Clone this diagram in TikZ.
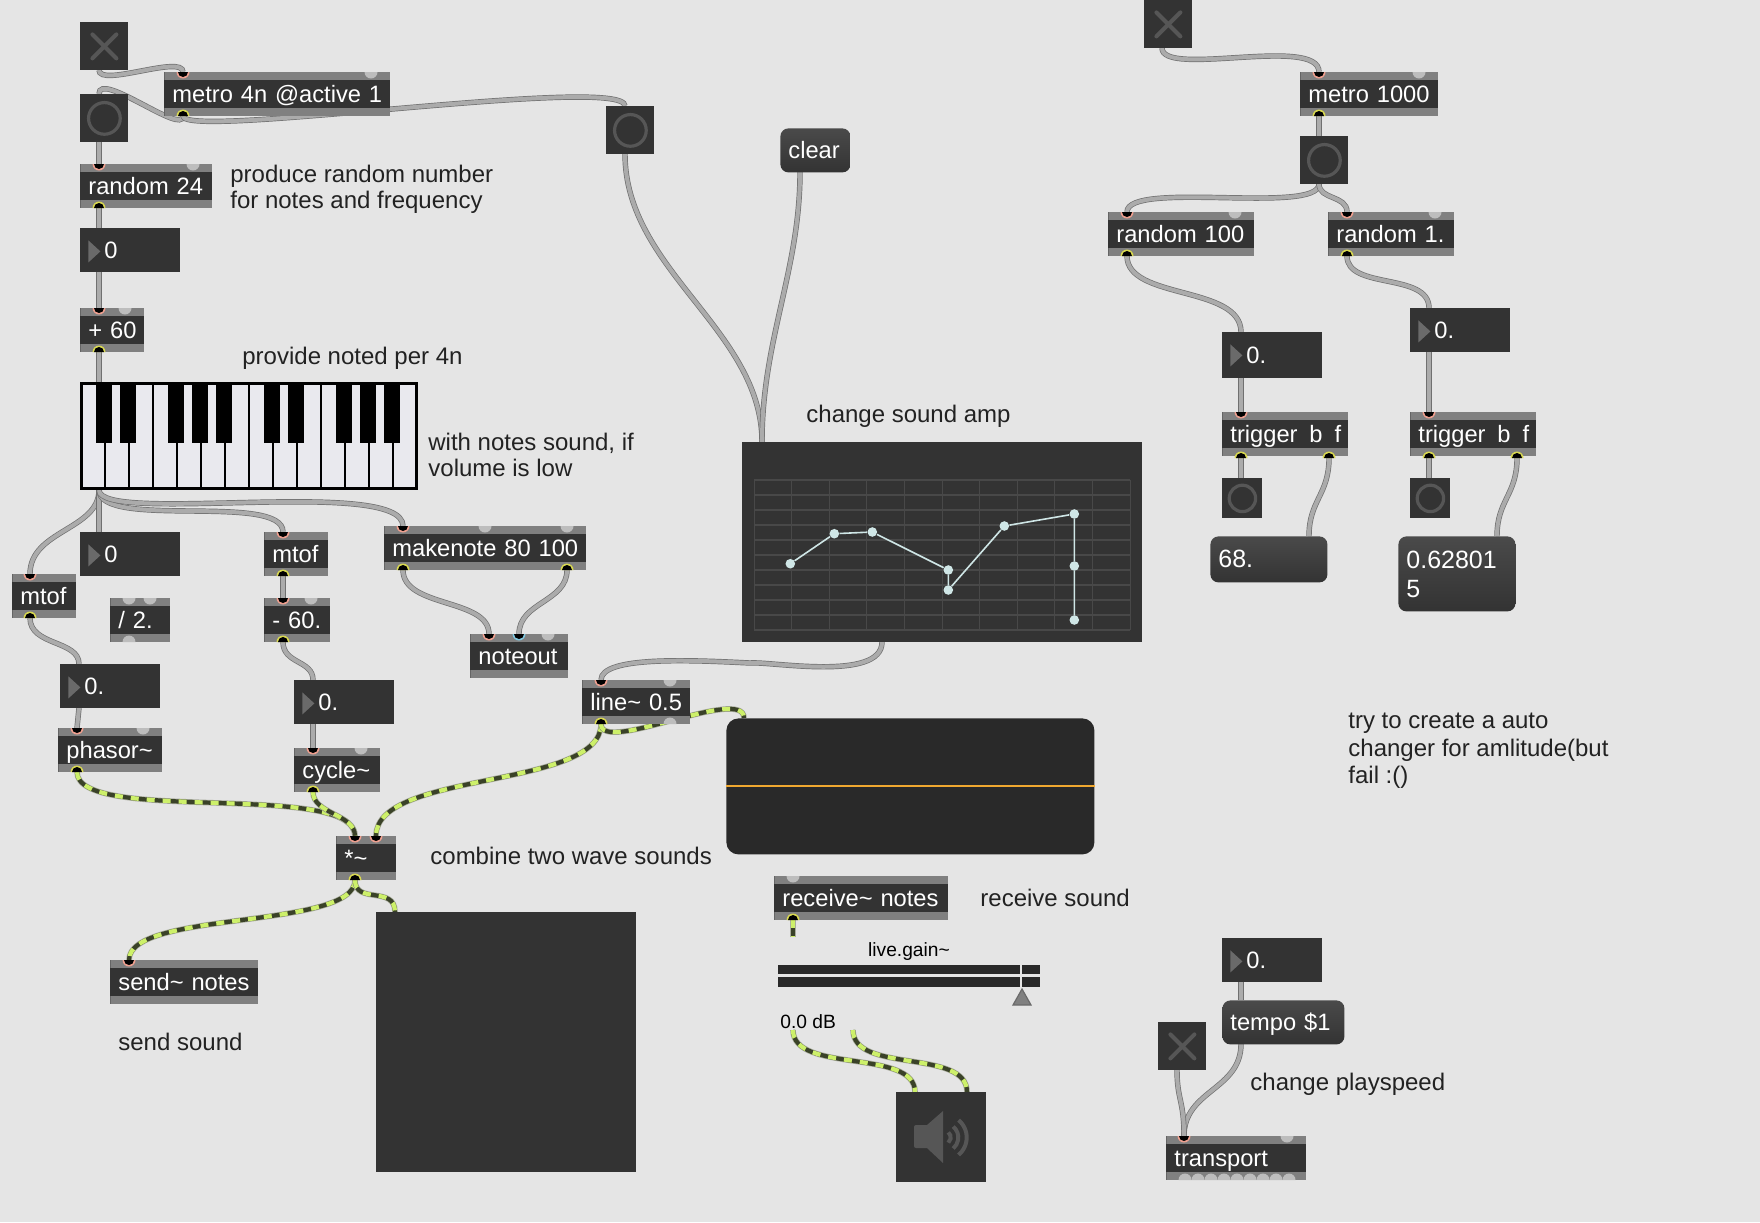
\documentclass[tikz,border=0pt]{standalone}
\usepackage{fontspec}
\setmainfont{Liberation Sans}
\usetikzlibrary{backgrounds}

\definecolor{canvas}{HTML}{E5E5E5}
\definecolor{objdark}{HTML}{333333}
\definecolor{objband}{HTML}{808080}
\definecolor{hintcol}{HTML}{BDBDBD}
\definecolor{inring}{HTML}{F0A090}
\definecolor{bluering}{HTML}{80C8E0}
\definecolor{outring}{HTML}{D8D850}
\definecolor{glyphcol}{HTML}{565656}
\definecolor{tricol}{HTML}{6A6A6A}
\definecolor{msgtop}{HTML}{4A4A4A}
\definecolor{msgbot}{HTML}{333333}
\definecolor{notecol}{HTML}{222222}
\definecolor{wireedge}{HTML}{707070}
\definecolor{wirefill}{HTML}{ABABAB}
\definecolor{sigedge}{HTML}{A8AC9C}
\definecolor{sigdark}{HTML}{3A4228}
\definecolor{siglime}{HTML}{CDF06A}
\definecolor{gridcol}{HTML}{484848}
\definecolor{ptcol}{HTML}{CFE6E6}
\definecolor{scopecol}{HTML}{292929}
\definecolor{ampcol}{HTML}{F0A830}
\definecolor{keywhite}{HTML}{E9E9EE}

\newcommand{\tilda}{\textasciitilde}
\newcommand{\inport}[4][inring]{%
  \coordinate (#2) at (#3,#4);
  \fill[#1] (#3,#4) ++(6.5,0) arc[start angle=0,end angle=180,radius=6.5] -- cycle;
  \fill[black] (#3,#4) ++(5,0) arc[start angle=0,end angle=180,radius=5] -- cycle;}
\newcommand{\outport}[3]{%
  \coordinate (#1) at (#2,#3);
  \fill[outring] (#2,#3) ++(6.5,0) arc[start angle=360,end angle=180,radius=6.5] -- cycle;
  \fill[black] (#2,#3) ++(5,0) arc[start angle=360,end angle=180,radius=5] -- cycle;}
\newcommand{\tophint}[2]{%
  \fill[hintcol] (#1,#2) ++(6.5,0) arc[start angle=0,end angle=180,radius=6.5] -- cycle;}
\newcommand{\bothint}[2]{%
  \fill[hintcol] (#1,#2) ++(6.5,0) arc[start angle=360,end angle=180,radius=6.5] -- cycle;}

\tikzset{
  txt/.style={font=\fontsize{11.85}{13}\selectfont},
  note/.style={font=\fontsize{12}{13}\selectfont,text=notecol,anchor=west,inner sep=0pt,align=left},
  darkbox/.style={rectangle,fill=objdark,anchor=north west,inner sep=0pt},
  objbox/.style={darkbox,txt,text=white,minimum height=22pt,
    text width={#1*.5pt},align=left,text height=9.4pt,text depth=1.8pt,
    execute at begin node={\hspace*{4pt}},
    path picture={
      \fill[objband] (path picture bounding box.north west) rectangle
        ([yshift=-4pt]path picture bounding box.north east);
      \fill[objband] (path picture bounding box.south west) rectangle
        ([yshift=4pt]path picture bounding box.south east);}},
  numbox/.style={darkbox,txt,text=white,minimum height=#1,
    text width=50pt,align=left,text height=9.4pt,text depth=1.8pt,
    execute at begin node={\hspace*{12pt}},
    path picture={
      \fill[tricol] ([xshift=4pt,yshift=-6pt]path picture bounding box.north west)
        -- ([xshift=10pt,yshift=-11.5pt]path picture bounding box.north west)
        -- ([xshift=4pt,yshift=-17pt]path picture bounding box.north west) -- cycle;}},
  msgbox/.style={rectangle,rounded corners=4pt,top color=msgtop,bottom color=msgbot,
    anchor=north west,inner sep=0pt,txt,text=white,minimum height=22pt,
    text width={#1*.5pt},align=left,text height=9.4pt,text depth=1.8pt,
    execute at begin node={\hspace*{4pt}}},
  bangbox/.style 2 args={darkbox,minimum width=#1,minimum height=#2,
    path picture={\draw[glyphcol,line width=1.6pt]
      (path picture bounding box.center) circle[radius=.33*#1]; }},
  togbox/.style 2 args={darkbox,minimum width=#1,minimum height=#2,
    path picture={\draw[glyphcol,line width=2pt,line cap=round]
      ([xshift=-6pt,yshift=-6pt]path picture bounding box.center) --
      ([xshift=6pt,yshift=6pt]path picture bounding box.center)
      ([xshift=-6pt,yshift=6pt]path picture bounding box.center) --
      ([xshift=6pt,yshift=-6pt]path picture bounding box.center);}},
  wire/.style={draw=wireedge,line width=.35pt,double=wirefill,double distance=2pt},
  sigwire/.style={draw=sigedge,line width=2.8pt,
    postaction={draw=sigdark,line width=2.1pt},
    postaction={draw=siglime,line width=2.1pt,dash pattern=on 4pt off 4pt}},
  ptnode/.style={circle,fill=ptcol,minimum size=4.8pt,inner sep=0pt},
  ptline/.style={ptcol,line width=.8pt},
}

\begin{document}
\begin{tikzpicture}[x=.5pt,y=-.5pt]
  \useasboundingbox (0,0) rectangle (1760,1222);

  % left column
  \node[togbox={24pt}{24pt}]  (toga)   at (80,22) {};
  \node[objbox=226]           (metroa) at (164,72) {metro 4n @active 1};
  \node[bangbox={24pt}{24pt}] (banga)  at (80,94) {};
  \node[bangbox={24pt}{24pt}] (bangb)  at (606,106) {};
  \node[objbox=132]           (rnda)   at (80,164) {random 24};
  \node[numbox=22pt]          (numa)   at (80,228) {0};
  \node[objbox=64]            (plus)   at (80,308) {+ 60};
  \node[draw=black,line width=1.5pt,fill=keywhite,anchor=north west,inner sep=0pt,outer sep=0pt,
        minimum width=167.5pt,minimum height=52.5pt] (kbd) at (81.5,383.5) {};
  \foreach \x in {105,129,153,177,201,225,249,273,297,321,345,369,393}
    \draw[black,line width=1pt] (\x,383) -- (\x,489);
  \foreach \x in {96,120,168,192,216,264,288,336,360,384}
    \fill[black] (\x,383) rectangle (\x+16,443);

  \node[numbox=22pt]  (numb)    at (80,532) {0};
  \node[objbox=64]    (mtofa)   at (12,574) {mtof};
  \node[objbox=60]    (divide)  at (110,598) {/ 2.};
  \node[objbox=64]    (mtofb)   at (264,532) {mtof};
  \node[objbox=66]    (minus)   at (264,598) {- 60.};
  \node[objbox=202]   (mknote)  at (384,526) {makenote 80 100};
  \node[objbox=98]    (ntout)   at (470,634) {noteout};
  \node[numbox=22pt]  (numc)    at (60,664) {0.};
  \node[objbox=104]   (phasor)  at (58,728) {phasor\tilda};
  \node[numbox=22pt]  (numd)    at (294,680) {0.};
  \node[objbox=86]    (cycle)   at (294,748) {cycle\tilda};
  \node[objbox=108]   (linea)   at (582,680) {line\tilda{} 0.5};
  \node[objbox=60]    (times)   at (336,836) {*\tilda};
  \node[objbox=148]   (send)    at (110,960) {send\tilda{} notes};
  \node[darkbox,minimum width=130pt,minimum height=130pt] (spect) at (376,912) {};

  % middle
  \node[msgbox=70] (clear) at (780,128) {clear};
  \node[darkbox,minimum width=200pt,minimum height=100pt] (table) at (742,442) {};
  \foreach \i in {0,...,10}
    \draw[gridcol,line width=.5pt] ({754+37.6*\i},480) -- ({754+37.6*\i},630);
  \foreach \i in {0,...,10}
    \draw[gridcol,line width=.8pt] (754,{480+15*\i}) -- (1130,{480+15*\i});
  \node[ptnode] (pta) at (790.3,563.7) {};
  \node[ptnode] (ptb) at (834.3,533.7) {};
  \node[ptnode] (ptc) at (872.3,532) {};
  \node[ptnode] (ptd) at (948.3,570) {};
  \node[ptnode] (pte) at (948.3,590) {};
  \node[ptnode] (ptf) at (1004.3,526) {};
  \node[ptnode] (ptg) at (1074.3,514) {};
  \node[ptnode] (pth) at (1074.3,566) {};
  \node[ptnode] (pti) at (1074.3,620) {};
  \draw[ptline] (pta) -- (ptb) -- (ptc) -- (ptd) -- (pte) -- (ptf) -- (ptg) -- (pth) -- (pti);
  \node[rectangle,rounded corners=6pt,fill=scopecol,anchor=north west,inner sep=0pt,
        minimum width=184pt,minimum height=68pt] (scopebox) at (726,718) {};
  \draw[ampcol,line width=1pt] (scopebox.west) -- (scopebox.east);

  \node[objbox=174] (recv) at (774,876) {receive\tilda{} notes};
  \node[fill=scopecol,anchor=north west,inner sep=0pt,minimum width=131pt,minimum height=4.5pt] (gaina) at (778,965) {};
  \node[fill=scopecol,anchor=north west,inner sep=0pt,minimum width=131pt,minimum height=5pt] (gainb) at (778,977) {};
  \fill[canvas] (1020,965) rectangle (1022,987);
  \fill[objband,draw=tricol,line width=.6pt] (1022,989) -- (1031,1005) -- (1013,1005) -- cycle;
  \node[font=\fontsize{9.6}{11}\selectfont,text=black,inner sep=0pt] (gaintitle) at (909,952) {live.gain\tilda};
  \node[font=\fontsize{9.6}{11}\selectfont,text=black,inner sep=0pt,anchor=west] (gaindb) at (780,1022) {0.0 dB};
  \coordinate (recvend) at (793,937);
  \coordinate (dbouta) at (793,1030);
  \coordinate (dboutb) at (853,1030);
  \node[darkbox,minimum width=45pt,minimum height=45pt] (dac) at (896,1092) {};
  \fill[glyphcol,rounded corners=1pt] (914,1125) rectangle (930,1148);
  \fill[glyphcol] (927,1125) -- (943,1111) -- (943,1163) -- (927,1148) -- cycle;
  \foreach \r in {6.7,14.3,22.7}
    \draw[glyphcol,line width=2pt] (944,1137.5) ++(-50:\r) arc[start angle=-50,end angle=50,radius=\r];

  % right column
  \node[togbox={24pt}{24pt}]  (togb)    at (1144,0) {};
  \node[objbox=138]           (metrob)  at (1300,72) {metro 1000};
  \node[bangbox={24pt}{24pt}] (bangc)   at (1300,136) {};
  \node[objbox=146]           (rndb)    at (1108,212) {random 100};
  \node[objbox=126]           (rndc)    at (1328,212) {random 1.};
  \node[numbox=23pt]          (nume)    at (1222,332) {0.};
  \node[numbox=22pt]          (numf)    at (1410,308) {0.};
  \node[objbox=126]           (triga)   at (1222,412) {trigger\hspace{2pt} b\hspace{2pt} f};
  \node[objbox=126]           (trigb)   at (1410,412) {trigger\hspace{2pt} b\hspace{2pt} f};
  \node[bangbox={20pt}{20pt}] (bangd)   at (1222,478) {};
  \node[bangbox={20pt}{20pt}] (bange)   at (1410,478) {};
  \node[msgbox=117,minimum height=23pt] (msga) at (1210,536) {\fontsize{12.5}{15}\selectfont 68.};
  \node[msgbox=117,text height=16pt,text depth=21.5pt] (msgb) at (1398,536)
    {\fontsize{12.5}{15}\selectfont 0.62801\\[1.5pt]\hspace*{4pt}5};
  \node[numbox=22pt]          (numg)    at (1222,938) {0.};
  \node[msgbox=122]           (tempo)   at (1222,1000) {tempo \$1};
  \node[togbox={24pt}{24pt}]  (togc)    at (1158,1022) {};
  \node[objbox=140]           (trans)   at (1166,1136) {transport};

  % comments
  \node[note] (cmta) at (230,189) {produce random number\\for notes and frequency};
  \node[note] (cmtb) at (242,358) {provide noted per 4n};
  \node[note] (cmtc) at (428,455) {with notes sound, if\\volume is low};
  \node[note] (cmtd) at (806,416) {change sound amp};
  \node[note] (cmte) at (430,856) {combine two wave sounds};
  \node[note] (cmtf) at (118,1042) {send sound};
  \node[note] (cmtg) at (980,898) {receive sound};
  \node[note] (cmth) at (1250,1084) {change playspeed};
  \node[note,font=\fontsize{12}{13.7}\selectfont] (cmti) at (1348,751) {try to create a auto\\changer for amlitude(but\\fail :()};

  % ports
  \inport{metroain}{183}{72}  \tophint{371}{72}   \outport{metroaout}{183}{116}
  \inport{rndain}{99}{164}    \tophint{193}{164}  \outport{rndaout}{99}{208}
  \inport{plusin}{99}{308}    \tophint{125}{308}  \outport{plusout}{99}{352}
  \inport{mtofain}{30}{574}   \outport{mtofaout}{30}{618}
  \tophint{129}{598} \tophint{150}{598} \bothint{129}{642}
  \inport{mtofbin}{283}{532}  \outport{mtofbout}{283}{576}
  \inport{minusin}{283}{598}  \tophint{311}{598}  \outport{minusout}{283}{642}
  \inport{mkin}{403}{526}     \tophint{485}{526}  \tophint{567}{526}
  \outport{mkouta}{403}{570}  \outport{mkoutb}{567}{570}
  \inport{ntina}{489}{634}    \inport[bluering]{ntinb}{519}{634}  \tophint{548}{634}
  \inport{phasorin}{77}{728}  \tophint{143}{728}  \outport{phasorout}{77}{772}
  \inport{cyclein}{313}{748}  \tophint{361}{748}  \outport{cycleout}{313}{792}
  \inport{linein}{601}{680}   \tophint{670}{680}  \bothint{670}{724}  \outport{lineout}{601}{724}
  \inport{timesina}{355}{836} \inport{timesinb}{376}{836}  \outport{timesout}{355}{880}
  \inport{sendin}{129}{960}
  \tophint{793}{876}          \outport{recvout}{793}{920}
  \inport{metrobin}{1319}{72} \tophint{1419}{72}  \outport{metrobout}{1319}{116}
  \inport{rndbin}{1127}{212}  \tophint{1235}{212} \outport{rndbout}{1127}{256}
  \inport{rndcin}{1347}{212}  \tophint{1435}{212} \outport{rndcout}{1347}{256}
  \inport{trigain}{1241}{412} \outport{trigaouta}{1241}{458} \outport{trigaoutb}{1329}{458}
  \inport{trigbin}{1429}{412} \outport{trigbouta}{1429}{458} \outport{trigboutb}{1517}{458}
  \inport{transin}{1184}{1136} \tophint{1287}{1136}
  \foreach \x in {1185,1198,...,1289} {\bothint{\x}{1180}}

  % ends on plain boxes
  \coordinate (togaout) at (99,70);
  \coordinate (bangain) at (99,94);
  \coordinate (bangaout) at (99,142);
  \coordinate (bangbin) at (625,106);
  \coordinate (bangbout) at (625,154);
  \coordinate (numain) at (99,228);
  \coordinate (numaout) at (99,272);
  \coordinate (kbdin) at (99,382);
  \coordinate (kbdout) at (99,490);
  \coordinate (numbin) at (99,532);
  \coordinate (numcin) at (79,664);
  \coordinate (numcout) at (79,708);
  \coordinate (numdin) at (313,680);
  \coordinate (numdout) at (313,724);
  \coordinate (spectin) at (395,912);
  \coordinate (clearout) at (800,172);
  \coordinate (tablein) at (762,442);
  \coordinate (tableout) at (882,642);
  \coordinate (scopein) at (744,718);
  \coordinate (dacina) at (915,1092);
  \coordinate (dacinb) at (967,1092);
  \coordinate (togbout) at (1162,48);
  \coordinate (bangcin) at (1319,136);
  \coordinate (bangcout) at (1319,184);
  \coordinate (numein) at (1241,332);
  \coordinate (numeout) at (1241,378);
  \coordinate (numfin) at (1429,308);
  \coordinate (numfout) at (1429,352);
  \coordinate (bangdin) at (1241,478);
  \coordinate (bangein) at (1429,478);
  \coordinate (msgain) at (1309,536);
  \coordinate (msgbin) at (1497,536);
  \coordinate (numgout) at (1241,982);
  \coordinate (tempoin) at (1241,1000);
  \coordinate (tempoout) at (1241,1044);
  \coordinate (togcout) at (1177,1070);

  \begin{scope}[on background layer]
    \fill[canvas] (0,0) rectangle (1760,1222);
    \draw[wire] (togaout) .. controls +(0,18) and +(0,-18) .. (metroain);
    \draw[wire] (metroaout) .. controls +(0,20) and +(0,-24) .. (bangain);
    \draw[wire] (metroaout) .. controls +(0,24) and +(0,-32) .. (bangbin);
    \draw[wire] (bangaout) -- (rndain);
    \draw[wire] (rndaout) -- (numain);
    \draw[wire] (numaout) -- (plusin);
    \draw[wire] (plusout) -- (kbdin);
    \draw[wire] (kbdout) .. controls +(0,40) and +(0,-44) .. (mtofain);
    \draw[wire] (kbdout) -- (numbin);
    \draw[wire] (kbdout) .. controls +(0,40) and +(0,-40) .. (mtofbin);
    \draw[wire] (kbdout) .. controls +(0,35) and +(0,-50) .. (mkin);
    \draw[wire] (mtofaout) .. controls +(0,28) and +(0,-24) .. (numcin);
    \draw[wire] (numcout) -- (phasorin);
    \draw[wire] (mtofbout) -- (minusin);
    \draw[wire] (minusout) .. controls +(0,22) and +(0,-20) .. (numdin);
    \draw[wire] (numdout) -- (cyclein);
    \draw[wire] (mkouta) .. controls +(0,38) and +(0,-36) .. (ntina);
    \draw[wire] (mkoutb) .. controls +(0,32) and +(0,-32) .. (ntinb);
    \draw[wire] (bangbout) .. controls +(0,116) and +(0,-112) .. (tablein);
    \draw[wire] (clearout) .. controls +(0,98) and +(0,-102) .. (tablein);
    \draw[wire] (tableout) .. controls +(0,40) and +(20,-2) .. (750,663) .. controls +(-60,-3) and +(0,-24) .. (linein);
    \draw[sigwire] (phasorout) .. controls +(0,53) and +(0,-56) .. (timesina);
    \draw[sigwire] (cycleout) .. controls +(0,22) and +(0,-22) .. (timesina);
    \draw[sigwire] (lineout) .. controls +(0,66) and +(0,-66) .. (timesinb);
    \draw[sigwire] (lineout) .. controls +(0,31) and +(0,-33) .. (scopein);
    \draw[sigwire] (timesout) .. controls +(0,50) and +(0,-50) .. (sendin);
    \draw[sigwire] (timesout) .. controls +(0,25) and +(0,-27) .. (spectin);
    \draw[sigwire] (recvout) -- (recvend);
    \draw[sigwire] (dbouta) .. controls +(0,44) and +(0,-44) .. (dacina);
    \draw[sigwire] (dboutb) .. controls +(0,44) and +(0,-44) .. (dacinb);
    \draw[wire] (togbout) .. controls +(0,30) and +(0,-37) .. (metrobin);
    \draw[wire] (metrobout) -- (bangcin);
    \draw[wire] (bangcout) .. controls +(0,31) and +(0,-32) .. (rndbin);
    \draw[wire] (bangcout) .. controls +(0,16) and +(0,-17) .. (rndcin);
    \draw[wire] (rndbout) .. controls +(0,44) and +(0,-47) .. (numein);
    \draw[wire] (rndcout) .. controls +(0,34) and +(0,-36) .. (numfin);
    \draw[wire] (numeout) -- (trigain);
    \draw[wire] (numfout) -- (trigbin);
    \draw[wire] (trigaouta) -- (bangdin);
    \draw[wire] (trigbouta) -- (bangein);
    \draw[wire] (trigaoutb) .. controls +(0,37) and +(0,-36) .. (msgain);
    \draw[wire] (trigboutb) .. controls +(0,37) and +(0,-36) .. (msgbin);
    \draw[wire] (numgout) -- (tempoin);
    \draw[wire] (tempoout) .. controls +(0,46) and +(0,-46) .. (transin);
    \draw[wire] (togcout) .. controls +(0,30) and +(0,-36) .. (transin);
  \end{scope}
\end{tikzpicture}
\end{document}
